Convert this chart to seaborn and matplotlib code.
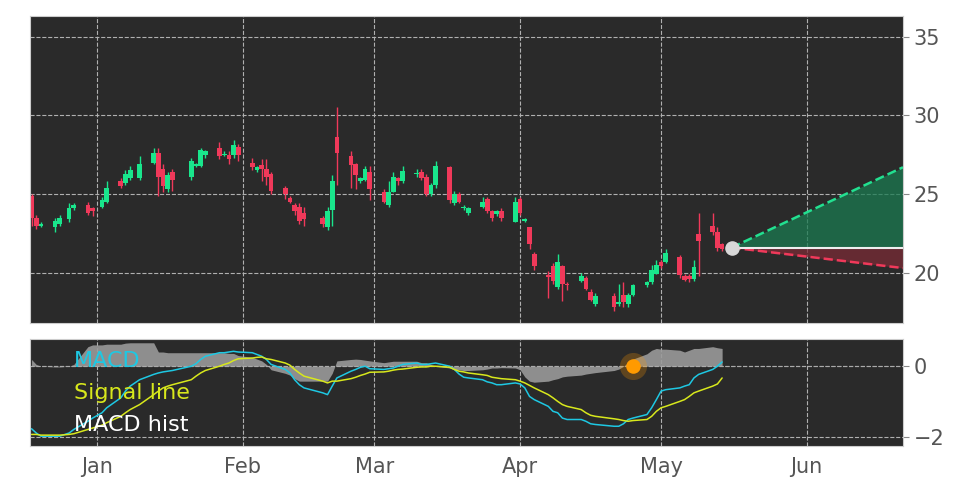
import numpy as np
import pandas as pd
import matplotlib
matplotlib.use("Agg")
import matplotlib.pyplot as plt
import matplotlib.dates as mdates
import seaborn as sns

# day offsets from 2023-01-01 for each candle
days = [-14, -13, -12, -9, -8, -6, -5, -2, -1, 1, 2, 5, 6, 7, 9, 12, 13, 14, 15, 16,
        20, 21, 22, 23, 26, 27, 28, 29, 30, 33, 34, 35, 36, 37, 40, 41, 42, 43, 44, 48,
        49, 50, 51, 54, 55, 56, 57, 58, 61, 62, 63, 64, 65, 68, 69, 70, 71, 72, 75, 76,
        77, 78, 79, 82, 83, 84, 85, 86, 89, 90, 91, 92, 93, 96, 97, 98, 99, 100, 103, 104,
        105, 106, 110, 111, 112, 113, 114, 117, 118, 119, 120, 121, 124, 125, 126, 127, 128, 131, 132, 133]
opens = [24.85, 23.5, 23.0, 22.9, 23.1, 23.4, 24.1, 24.3, 24.1, 24.2, 24.5, 25.8, 25.7, 26.0, 26.0, 27.0, 27.6, 26.6, 25.3, 26.4,
         26.1, 26.8, 26.8, 27.5, 27.9, 27.45, 27.5, 27.5, 28.0, 27.0, 26.5, 26.85, 26.6, 26.3, 25.4, 24.75, 24.3, 24.2, 23.8, 23.5,
         22.9, 24.0, 28.6, 27.4, 26.9, 25.8, 25.9, 26.4, 25.15, 24.3, 25.15, 26.0, 25.8, 26.25, 26.4, 26.1, 25.0, 25.6, 26.7, 24.45,
         25.0, 24.1, 23.8, 24.2, 24.7, 23.95, 23.75, 23.95, 23.25, 24.7, 23.3, 22.9, 21.2, 19.8, 20.4, 19.1, 20.4, 19.3, 19.5, 19.7,
         18.8, 18.0, 18.5, 18.05, 18.6, 18.0, 18.6, 19.2, 19.4, 19.95, 20.7, 20.7, 21.0, 19.8, 19.8, 19.6, 22.45, 23.0, 22.6, 21.8]
closes = [23.5, 23.0, 23.1, 23.3, 23.5, 24.1, 24.3, 23.8, 23.9, 24.6, 25.4, 25.5, 26.3, 26.5, 26.9, 27.6, 26.1, 25.5, 26.2, 25.9,
          27.1, 26.9, 27.8, 27.7, 27.4, 27.55, 27.2, 28.1, 27.5, 26.7, 26.7, 26.6, 26.1, 25.2, 25.0, 24.5, 23.9, 23.3, 23.4, 23.1,
          23.9, 25.8, 27.6, 26.85, 26.2, 26.0, 26.6, 25.3, 24.5, 25.15, 26.1, 25.8, 26.45, 26.35, 26.0, 25.0, 25.6, 26.8, 24.6, 25.0,
          24.5, 24.2, 24.1, 24.5, 23.95, 23.5, 23.9, 23.5, 24.5, 23.8, 23.4, 21.8, 20.4, 19.75, 19.5, 20.7, 19.3, 19.2, 19.8, 19.0,
          18.3, 18.5, 17.8, 18.15, 18.15, 18.6, 19.2, 19.4, 20.2, 20.5, 20.45, 21.25, 19.85, 19.55, 19.6, 20.35, 22.0, 22.6, 21.6, 21.5]
highs = [25.0, 23.7, 23.2, 23.5, 23.7, 24.4, 24.4, 24.5, 24.2, 24.8, 25.8, 26.0, 26.5, 26.8, 27.4, 27.9, 27.9, 26.9, 26.4, 26.6,
         27.3, 27.0, 27.9, 27.8, 28.3, 27.7, 27.7, 28.4, 28.2, 27.3, 26.8, 27.2, 27.2, 26.4, 25.5, 24.9, 24.4, 24.4, 24.2, 23.6,
         24.2, 26.2, 30.5, 27.7, 27.0, 26.1, 26.8, 26.8, 25.3, 25.8, 26.4, 26.1, 26.8, 26.6, 26.6, 26.3, 25.7, 27.1, 26.8, 25.2,
         25.1, 24.3, 24.2, 24.8, 24.8, 24.0, 24.0, 24.1, 24.8, 24.8, 23.5, 22.9, 21.3, 20.1, 20.6, 21.2, 20.5, 19.4, 20.0, 19.8,
         19.0, 18.7, 18.7, 19.3, 19.4, 18.7, 19.3, 19.5, 20.5, 20.8, 20.8, 21.5, 21.1, 19.9, 19.9, 20.8, 23.8, 23.8, 22.9, 21.9]
lows = [23.0, 22.8, 22.9, 22.6, 23.0, 23.2, 24.0, 23.7, 23.6, 24.1, 24.4, 25.4, 25.6, 25.9, 25.9, 26.9, 24.9, 25.1, 25.1, 25.2,
        25.9, 26.7, 26.7, 27.3, 27.2, 27.4, 26.9, 27.3, 27.1, 26.5, 26.4, 25.8, 25.6, 25.0, 24.7, 24.4, 23.7, 23.1, 23.0, 22.9,
        22.7, 23.0, 25.6, 25.4, 25.3, 25.7, 25.8, 24.6, 24.4, 24.2, 25.1, 25.6, 25.7, 26.1, 25.9, 24.9, 24.9, 25.4, 24.4, 24.3,
        24.4, 24.0, 23.7, 24.1, 23.8, 23.3, 23.6, 23.3, 23.2, 23.7, 23.2, 21.5, 20.2, 18.4, 19.3, 19.0, 18.2, 18.9, 19.4, 18.9,
        18.2, 17.9, 17.6, 17.9, 17.8, 17.8, 18.5, 19.1, 19.3, 19.9, 20.3, 20.6, 19.7, 19.5, 19.4, 19.5, 19.8, 22.4, 21.4, 21.4]

macd = [-1.76, -1.88, -1.97, -1.97, -1.97, -1.88, -1.78, -1.55, -1.46, -1.31, -1.17, -0.89, -0.70, -0.56, -0.38, -0.23, -0.19, -0.16, -0.14, -0.12,
        0.0, 0.07, 0.19, 0.28, 0.38, 0.38, 0.40, 0.42, 0.40, 0.38, 0.33, 0.28, 0.19, 0.05, -0.09, -0.19, -0.38, -0.52, -0.61, -0.75,
        -0.80, -0.56, -0.33, -0.14, -0.09, -0.03, 0.0, -0.07, -0.09, -0.07, -0.05, 0.0, 0.05, 0.09, 0.05, 0.05, 0.07, 0.09, 0.0, -0.09,
        -0.22, -0.31, -0.33, -0.38, -0.44, -0.47, -0.52, -0.52, -0.47, -0.50, -0.61, -0.85, -0.94, -1.13, -1.27, -1.31, -1.46, -1.50, -1.50, -1.55,
        -1.62, -1.64, -1.69, -1.69, -1.62, -1.50, -1.46, -1.36, -1.17, -0.94, -0.70, -0.66, -0.61, -0.56, -0.52, -0.33, -0.23, -0.09, 0.0, 0.12]
signal = [-1.92, -1.92, -1.94, -1.94, -1.94, -1.92, -1.90, -1.78, -1.74, -1.66, -1.59, -1.41, -1.31, -1.22, -1.08, -0.80, -0.70, -0.61, -0.56, -0.52,
          -0.38, -0.28, -0.19, -0.12, 0.0, 0.05, 0.09, 0.16, 0.21, 0.23, 0.25, 0.26, 0.21, 0.19, 0.09, 0.03, -0.09, -0.19, -0.28, -0.42,
          -0.47, -0.42, -0.42, -0.35, -0.31, -0.26, -0.22, -0.17, -0.16, -0.14, -0.11, -0.09, -0.08, -0.03, -0.02, -0.02, 0.0, 0.0, -0.03, -0.09,
          -0.14, -0.16, -0.19, -0.24, -0.26, -0.31, -0.33, -0.35, -0.38, -0.42, -0.47, -0.54, -0.61, -0.80, -0.89, -0.99, -1.08, -1.13, -1.22, -1.31,
          -1.38, -1.41, -1.48, -1.50, -1.53, -1.55, -1.53, -1.50, -1.41, -1.27, -1.17, -1.13, -0.99, -0.94, -0.85, -0.75, -0.70, -0.56, -0.50, -0.33]
hist = [0.19, 0.05, 0.0, -0.02, -0.02, 0.0, 0.05, 0.55, 0.6, 0.6, 0.62, 0.62, 0.65, 0.66, 0.66, 0.66, 0.4, 0.4, 0.38, 0.38,
        0.38, 0.38, 0.38, 0.38, 0.38, 0.38, 0.36, 0.36, 0.3, 0.25, 0.2, 0.15, 0.05, -0.1, -0.2, -0.25, -0.35, -0.42, -0.42, -0.42,
        -0.42, -0.2, 0.15, 0.19, 0.2, 0.19, 0.17, 0.15, 0.1, 0.12, 0.14, 0.14, 0.14, 0.14, 0.1, 0.1, 0.05, 0.0, -0.05, -0.1,
        -0.1, -0.12, -0.12, -0.1, -0.08, -0.05, -0.05, -0.04, -0.05, -0.1, -0.3, -0.42, -0.45, -0.42, -0.38, -0.35, -0.3, -0.28, -0.25, -0.22,
        -0.2, -0.18, -0.12, -0.08, 0.0, 0.1, 0.2, 0.35, 0.45, 0.5, 0.48, 0.48, 0.45, 0.4, 0.45, 0.5, 0.5, 0.55, 0.52, 0.5]

# forecast cone
fc_days = [135, 171.5]
fc_mid = [21.6, 21.6]
fc_up = [21.6, 26.7]
fc_low = [21.6, 20.3]
cross_day = 114

base = pd.Timestamp("2023-01-01")
dates = base + pd.to_timedelta(days, unit="D")
fc_dates = base + pd.to_timedelta(fc_days, unit="D")
df = pd.DataFrame({"date": dates, "open": opens, "close": closes, "high": highs, "low": lows,
                   "macd": macd, "signal": signal, "hist": hist})

sns.set_style("darkgrid", {"axes.facecolor": "#2a2a2a", "grid.color": "#b0b0b0",
                           "grid.linestyle": "--", "axes.edgecolor": "#cccccc"})
plt.rcParams["font.family"] = ["DejaVu Sans"]

fig = plt.figure(figsize=(9.72, 4.86), dpi=100)
ax = fig.add_axes([0.031, 0.335, 0.898, 0.632])
ax2 = fig.add_axes([0.031, 0.082, 0.898, 0.220], sharex=ax)

GREEN = "#19e68c"
RED = "#f0395a"
up = df["close"] >= df["open"]
cols = np.where(up, GREEN, RED)
ax.vlines(df["date"], df["low"], df["high"], color=cols, linewidth=1)
ax.bar(df["date"], (df["close"] - df["open"]).abs().clip(lower=0.08),
       bottom=np.minimum(df["open"], df["close"]), width=1.0, color=cols, linewidth=0)

ax.fill_between(fc_dates, fc_mid, fc_up, color="#1a7a50", alpha=0.75, linewidth=0)
ax.fill_between(fc_dates, fc_low, fc_mid, color="#7a2a36", alpha=0.75, linewidth=0)
ax.plot(fc_dates, fc_up, "--", color="#22e090", lw=1.8)
ax.plot(fc_dates, fc_low, "--", color="#f0395a", lw=1.8)
ax.plot(fc_dates, fc_mid, "-", color="#eeeeee", lw=1.5)
ax.scatter(fc_dates[:1], fc_mid[:1], s=90, color="#d8d8d8", zorder=5)

ax.set_ylim(16.8, 36.3)
ax.set_yticks([20, 25, 30, 35])
ax.yaxis.tick_right()
ax.tick_params(axis="x", labelbottom=False, length=4, color="#888888")
ax.tick_params(axis="y", labelsize=15, labelcolor="#555555", length=4, color="#888888")
ax.set_xlim(base + pd.Timedelta(days=-14.3), base + pd.Timedelta(days=171.5))

# MACD panel
ax2.fill_between(df["date"], 0, df["hist"], color="#9a9a9a", alpha=0.9, linewidth=0)
ax2.axhline(0, color="#aaaaaa", lw=0.8, ls="--")
sns.lineplot(data=df, x="date", y="macd", ax=ax2, color="#1ec8e3", lw=1.1)
sns.lineplot(data=df, x="date", y="signal", ax=ax2, color="#d8e81c", lw=1.1)
cd = base + pd.Timedelta(days=cross_day)
ax2.scatter([cd], [0], s=380, color="#ff9900", alpha=0.25, zorder=5, linewidth=0)
ax2.scatter([cd], [0], s=110, color="#ff9a00", zorder=6, linewidth=0)
ax2.set_ylim(-2.25, 0.76)
ax2.set_yticks([-2, 0])
ax2.set_yticklabels(["\u22122", "0"])
ax2.yaxis.tick_right()
ax2.set_xlabel("")
ax2.set_ylabel("")
ax2.tick_params(axis="y", labelsize=15, labelcolor="#555555", length=4, color="#888888")
ax2.tick_params(axis="x", labelsize=15, labelcolor="#555555", length=4, color="#888888")
ax2.xaxis.set_major_locator(mdates.MonthLocator())
ax2.xaxis.set_major_formatter(mdates.DateFormatter("%b"))
for ypos, label, c in [(0.80, "MACD", "#1ec8e3"), (0.50, "Signal line", "#d8e81c"), (0.20, "MACD hist", "#ffffff")]:
    ax2.text(0.05, ypos, label, color=c, fontsize=16, transform=ax2.transAxes, va="center", zorder=10)

fig.savefig("out.png", dpi=100, facecolor="white")
